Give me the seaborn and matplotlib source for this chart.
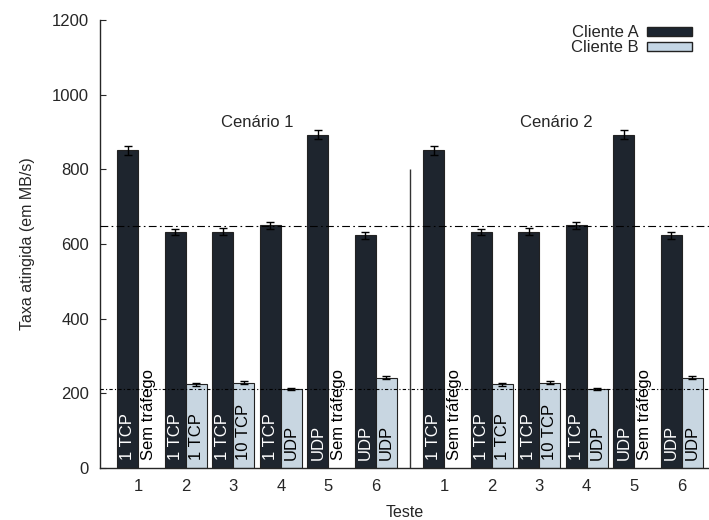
import numpy as np
import pandas as pd
import matplotlib
matplotlib.use("Agg")
import matplotlib.pyplot as plt
import seaborn as sns
from matplotlib.patches import Patch

# estilo
sns.set_style("ticks")
plt.rcParams['font.family'] = ['Liberation Sans', 'DejaVu Sans']

# dados (mesmos valores nos dois cenários)
testes = [1, 2, 3, 4, 5, 6]
cenarios = ["Cenário 1", "Cenário 2"]
taxa_a = [851, 632, 633, 650, 893, 623]
taxa_b = [np.nan, 224, 229, 212, np.nan, 242]
erro_a = [12, 9, 9, 9, 12, 9]
erro_b = [0, 4, 4, 2, 0, 4]
rotulo_a = ["1 TCP", "1 TCP", "1 TCP", "1 TCP", "UDP", "UDP"]
rotulo_b = ["Sem tráfego", "1 TCP", "10 TCP", "UDP", "Sem tráfego", "UDP"]
ref_a = 648
ref_b = 212

cor_a = "#1c2530"
cor_b = "#c4d6e5"

# posição de cada grupo no eixo x (cenário 2 deslocado)
desloc = 6.43
linhas = []
for k, cen in enumerate(cenarios):
    for i, t in enumerate(testes):
        pos = t + k * desloc
        linhas.append({"pos": pos, "cliente": "Cliente A", "taxa": taxa_a[i],
                       "erro": erro_a[i], "rotulo": rotulo_a[i]})
        linhas.append({"pos": pos, "cliente": "Cliente B", "taxa": taxa_b[i],
                       "erro": erro_b[i], "rotulo": rotulo_b[i]})
df = pd.DataFrame(linhas)

fig = plt.figure(figsize=(7.09, 5.20), dpi=100)
ax = fig.add_axes([100 / 709, 52 / 520, 609 / 709, 448 / 520])

largura = 0.88
sns.barplot(data=df, x="pos", y="taxa", hue="cliente", native_scale=True,
            palette=[cor_a, cor_b], width=largura, errorbar=None,
            edgecolor="#222222", linewidth=0.8, ax=ax, legend=False)

# barras de erro e rótulos dentro das barras
meia = largura / 4
for _, r in df.iterrows():
    x = r["pos"] - meia if r["cliente"] == "Cliente A" else r["pos"] + meia
    if not np.isnan(r["taxa"]):
        ax.errorbar(x, r["taxa"], yerr=r["erro"], fmt="none", ecolor="black",
                    elinewidth=1, capsize=3, capthick=1, zorder=5)
    cor_txt = "white" if r["cliente"] == "Cliente A" else "black"
    ax.text(x, 22, r["rotulo"], rotation=90, ha="center", va="bottom",
            color=cor_txt, fontsize=12, zorder=6)

# linhas de referência
ax.axhline(ref_a, color="black", lw=0.8, dashes=(7, 3, 1.5, 3), zorder=4)
ax.axhline(ref_b, color="black", lw=0.8, dashes=(3, 2, 1, 2), zorder=4)

# separador de cenários (entre o teste 6 do cenário 1 e o teste 1 do cenário 2)
sep = (testes[-1] + testes[0] + desloc) / 2
ax.vlines(sep, 0, 800, color="#333333", lw=1)

# títulos dos cenários
ax.text(3.5, 925, cenarios[0], ha="center", va="center", fontsize=12)
ax.text(3.5 + 6.3, 925, cenarios[1], ha="center", va="center", fontsize=12)

# eixos
ax.set_xlim(0.2, 13.0)
ax.set_ylim(0, 1200)
ax.set_yticks(range(0, 1201, 200))
pos_ticks = sorted(df["pos"].unique())
ax.set_xticks(pos_ticks)
ax.set_xticklabels([str(t) for t in testes] * 2)
ax.tick_params(axis="y", direction="in", length=4, pad=8, labelsize=12)
ax.tick_params(axis="x", length=0, pad=8, labelsize=12)
ax.set_xlabel("Teste", fontsize=11.5, labelpad=8)
ax.set_ylabel("Taxa atingida (em MB/s)", fontsize=11.5, labelpad=12)
sns.despine(ax=ax)
ax.spines["left"].set_linewidth(1)
ax.spines["bottom"].set_linewidth(1)

# legenda
alcas = [Patch(facecolor=cor_a, edgecolor="#222222", label="Cliente A"),
         Patch(facecolor=cor_b, edgecolor="#222222", label="Cliente B")]
ax.legend(handles=alcas, loc="upper right", bbox_to_anchor=(692 / 709, 1 - 25 / 520),
          bbox_transform=fig.transFigure, frameon=False, markerfirst=False,
          fontsize=12, handlelength=2.7, handleheight=0.45, labelspacing=0.0,
          handletextpad=0.5, borderpad=0, borderaxespad=0)

fig.savefig("out.png", dpi=100)
